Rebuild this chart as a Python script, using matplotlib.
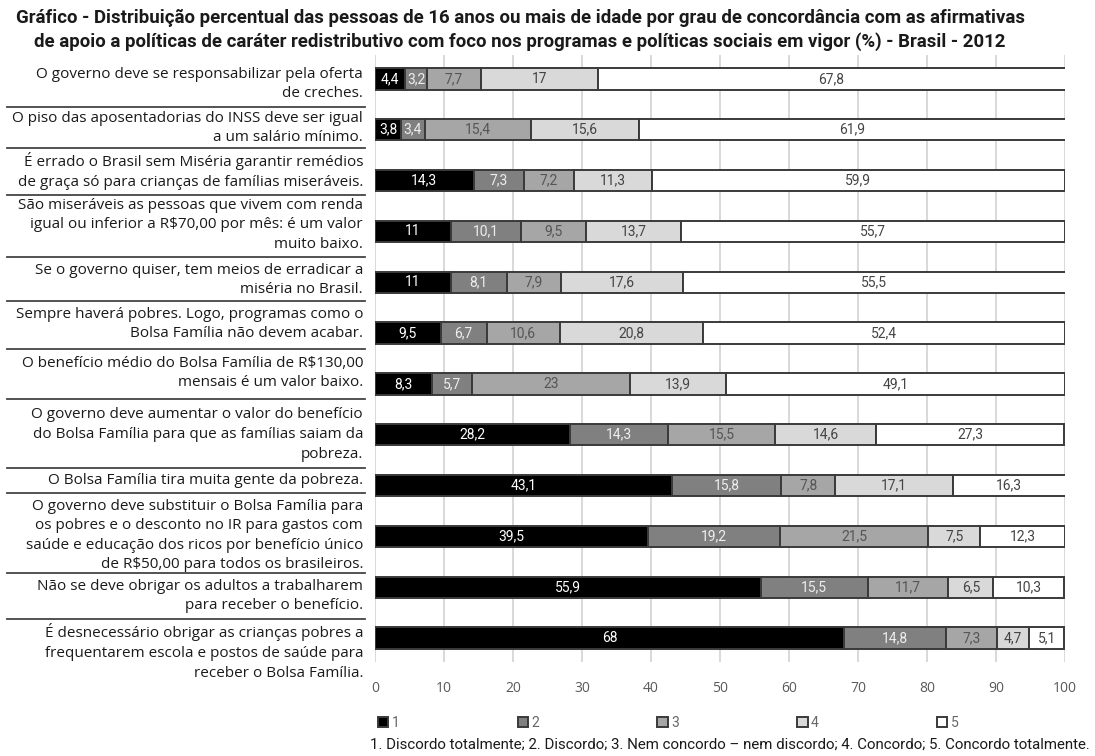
import matplotlib
matplotlib.use("Agg")
import matplotlib.pyplot as plt
import numpy as np

statements = [
    "O governo deve se responsabilizar pela oferta\nde creches.",
    "O piso das aposentadorias do INSS deve ser igual\na um salário mínimo.",
    "É errado o Brasil sem Miséria garantir remédios\nde graça só para crianças de famílias miseráveis.",
    "São miseráveis as pessoas que vivem com renda\nigual ou inferior a R$70,00 por mês: é um valor\nmuito baixo.",
    "Se o governo quiser, tem meios de erradicar a\nmiséria no Brasil.",
    "Sempre haverá pobres. Logo, programas como o\nBolsa Família não devem acabar.",
    "O benefício médio do Bolsa Família de R$130,00\nmensais é um valor baixo.",
    "O governo deve aumentar o valor do benefício\ndo Bolsa Família para que as famílias saiam da\npobreza.",
    "O Bolsa Família tira muita gente da pobreza.",
    "O governo deve substituir o Bolsa Família para\nos pobres e o desconto no IR para gastos com\nsaúde e educação dos ricos por benefício único\nde R$50,00 para todos os brasileiros.",
    "Não se deve obrigar os adultos a trabalharem\npara receber o benefício.",
    "É desnecessário obrigar as crianças pobres a\nfrequentarem escola e postos de saúde para\nreceber o Bolsa Família.",
]

series_names = ["1", "2", "3", "4", "5"]
s1 = [4.4, 3.8, 14.3, 11, 11, 9.5, 8.3, 28.2, 43.1, 39.5, 55.9, 68]
s2 = [3.2, 3.4, 7.3, 10.1, 8.1, 6.7, 5.7, 14.3, 15.8, 19.2, 15.5, 14.8]
s3 = [7.7, 15.4, 7.2, 9.5, 7.9, 10.6, 23, 15.5, 7.8, 21.5, 11.7, 7.3]
s4 = [17, 15.6, 11.3, 13.7, 17.6, 20.8, 13.9, 14.6, 17.1, 7.5, 6.5, 4.7]
s5 = [67.8, 61.9, 59.9, 55.7, 55.5, 52.4, 49.1, 27.3, 16.3, 12.3, 10.3, 5.1]
x_ticks = [0, 10, 20, 30, 40, 50, 60, 70, 80, 90, 100]

title = ("Gráfico - Distribuição percentual das pessoas de 16 anos ou mais de idade por grau de concordância com as afirmativas\n"
         "de apoio a políticas de caráter redistributivo com foco nos programas e políticas sociais em vigor (%) - Brasil - 2012")
note = "1. Discordo totalmente; 2. Discordo; 3. Nem concordo – nem discordo; 4. Concordo; 5. Concordo totalmente."

fills = ["#000000", "#808080", "#a6a6a6", "#d9d9d9", "#ffffff"]
label_colors = ["#ffffff", "#eeeeee", "#555555", "#444444", "#444444"]

W, H = 1095, 756
fig = plt.figure(figsize=(W / 100, H / 100), dpi=100)
narrow = ["Roboto", "DejaVu Sans"]
body = ["Open Sans", "DejaVu Sans"]

def fx(px):
    return px / W

def fy(py):
    return 1 - py / H

ax = fig.add_axes([fx(375), fy(662), fx(1065) - fx(375), fy(55) - fy(662)])
y = np.arange(len(statements))
left = np.zeros(len(statements))
for vals, name, fc, lc in zip([s1, s2, s3, s4, s5], series_names, fills, label_colors):
    vals = np.array(vals, dtype=float)
    bars = ax.barh(y, vals, left=left, height=0.42, color=fc, edgecolor="#3a3a3a",
                   linewidth=1.4, label=name, zorder=3)
    labels = [f"{v:g}".replace(".", ",") for v in vals]
    ax.bar_label(bars, labels=labels, label_type="center", color=lc,
                 fontsize=10, family=narrow, zorder=4)
    left += vals

ax.set_xlim(0, 100)
ax.set_ylim(11.47, -0.47)
ax.set_yticks([])
ax.set_xticks(x_ticks)
ax.set_xticklabels([str(t) for t in x_ticks], color="#5a5a5a", fontsize=10, family=body)
ax.tick_params(axis="x", length=0, pad=14)
ax.grid(axis="x", color="#d6d6d6", linewidth=1.3, zorder=0)
for s in ax.spines.values():
    s.set_visible(False)

# statement labels and separators
centers = [84, 128, 171, 225, 280, 324, 373, 434.5, 480, 535.5, 596, 652]
seps = [106.7, 148, 195, 256.7, 301, 349, 399, 467.7, 493, 573, 619]
for txt, c in zip(statements, centers):
    fig.text(fx(363), fy(c), txt, ha="right", va="center", fontsize=11,
             family=body, color="#1a1a1a", linespacing=1.42)
for s in seps:
    fig.add_artist(plt.Line2D([fx(7), fx(365)], [fy(s), fy(s)], color="#444444", linewidth=1.3))

fig.text(fx(520), fy(30), title, ha="center", va="center", fontsize=13.4,
         fontweight="bold", family=narrow, color="#1a1a1a", linespacing=1.4)

handles, hl = ax.get_legend_handles_labels()
leg = fig.legend(handles, hl, loc="center left", bbox_to_anchor=(fx(378), fy(723)),
                 ncol=5, frameon=False, handlelength=0.75, handleheight=0.75,
                 handletextpad=0.25, borderaxespad=0, borderpad=0, columnspacing=8.5,
                 prop={"family": narrow, "size": 10})
for t in leg.get_texts():
    t.set_color("#666666")

fig.text(fx(1090), fy(745), note, ha="right", va="center", fontsize=10.8,
         family=narrow, color="#1a1a1a")

fig.savefig("out.png", dpi=100)
